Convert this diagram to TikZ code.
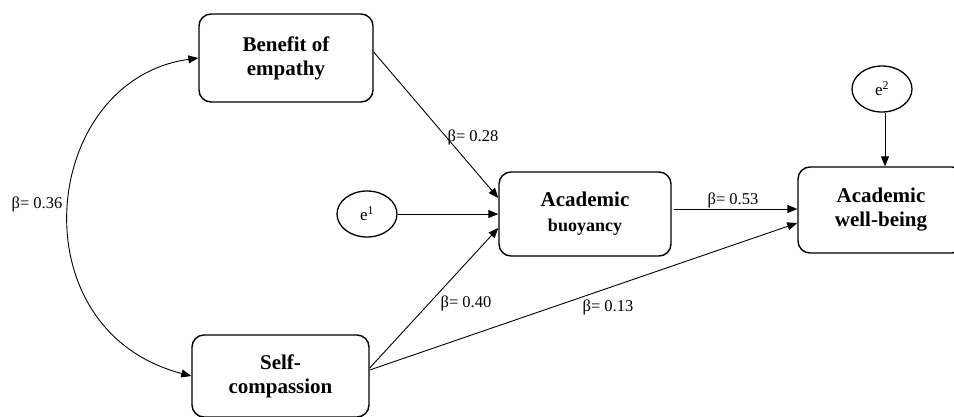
\documentclass[tikz,border=0pt]{standalone}
\usepackage{fontspec}
\setmainfont{Liberation Serif}
\usetikzlibrary{arrows.meta,shapes.geometric}
\begin{document}
\begin{tikzpicture}[x=1pt,y=-1pt,
  box/.style={draw,line width=1.4pt,rounded corners=12pt,align=center,inner sep=0pt,
    font=\fontsize{21}{24}\selectfont\bfseries},
  err/.style={draw,line width=1.3pt,ellipse,inner sep=0pt,font=\fontsize{17}{20}\selectfont},
  conn/.style={line width=0.9pt,-{Triangle[length=10pt,width=8pt]}},
  lbl/.style={font=\fontsize{16.5}{19}\selectfont,inner sep=0pt}]
\useasboundingbox (0,0) rectangle (954,416);
\node[box,minimum width=174pt,minimum height=88pt] (ben) at (286,58) {Benefit of\\empathy};
\node[box,minimum width=177pt,minimum height=82pt] (self) at (280.5,376) {Self-\\compassion};
\node[box,minimum width=172pt,minimum height=84pt] (buoy) at (585,214) {Academic\\[1pt]{\fontsize{18}{22}\selectfont buoyancy}};
\node[box,minimum width=166pt,minimum height=86pt] (wb) at (881,210) {Academic\\well-being};
\node[err,minimum width=60pt,minimum height=46pt] (e1) at (367,214) {e\textsuperscript{1}};
\node[err,minimum width=60pt,minimum height=46pt] (e2) at (882,89) {e\textsuperscript{2}};
\draw[conn,{Triangle[length=10pt,width=8pt]}-{Triangle[length=10pt,width=8pt]}] (ben.west) .. controls (40,80) and (15,330) .. (self.west);
\draw[conn] ([yshift=6pt]ben.east) -- ([yshift=16pt]buoy.west);
\draw[conn] (e1.east) -- (buoy.west);
\draw[conn] ([yshift=8pt]self.east) -- ([yshift=-14pt]buoy.west);
\draw[conn] ([yshift=6pt]self.east) -- ([yshift=-13pt]wb.west);
\draw[conn] ([xshift=2pt,yshift=5pt]buoy.east) -- ([yshift=1pt]wb.west);
\draw[conn] ([xshift=3pt]e2.south) -- ([xshift=4pt]wb.north);
\node[lbl] (l28) at (473,137) {β= 0.28};
\node[lbl] (l40) at (466,303) {β= 0.40};
\node[lbl] (l13) at (608,307) {β= 0.13};
\node[lbl] (l53) at (733,200) {β= 0.53};
\node[lbl] (l36) at (37,204) {β= 0.36};
\end{tikzpicture}
\end{document}
